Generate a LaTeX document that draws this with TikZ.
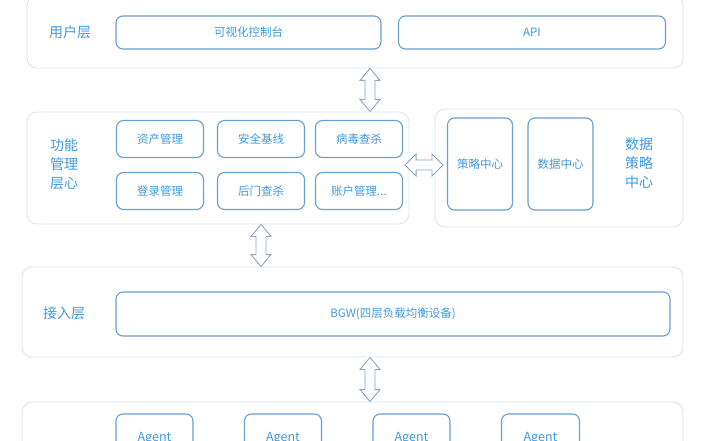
\documentclass[tikz,border=0pt]{standalone}
\usepackage{fontspec}
\setmainfont{Noto Sans CJK SC}
\usetikzlibrary{calc}
\definecolor{boxline}{HTML}{6A9FD0}
\definecolor{txtblue}{HTML}{429AE0}
\definecolor{panelline}{HTML}{DCE5EE}
\definecolor{arrline}{HTML}{8AA6C2}
\tikzset{
  panel/.style={draw=panelline, line width=0.9pt, rounded corners=10pt, fill=white},
  ibox/.style={draw=boxline, line width=1.1pt, rounded corners=7pt, fill=white,
     font=\fontsize{11.5}{14}\selectfont, text=txtblue, inner sep=0pt},
  agbox/.style={ibox, font=\fontsize{12.5}{14}\selectfont, minimum height=48pt},
  lbl/.style={font=\fontsize{14}{19}\selectfont, text=txtblue, align=center, inner sep=0pt},
  blockarr/.style={draw=arrline, fill=white, line width=0.9pt, line join=miter}
}
% vertical block arrow: #1 x (pt), #2 top anchor, #3 bottom anchor
\newcommand\vblockarrow[3]{%
  \draw[blockarr] let \p1=(#2), \p2=(#3) in
    (#1, \y1) -- (#1+10pt, \y1-12pt) -- (#1+5pt, \y1-12pt) -- (#1+5pt, \y2+12pt)
    -- (#1+10pt, \y2+12pt) -- (#1, \y2) -- (#1-10pt, \y2+12pt) -- (#1-5pt, \y2+12pt)
    -- (#1-5pt, \y1-12pt) -- (#1-10pt, \y1-12pt) -- cycle;}
% horizontal block arrow: #1 y (pt, canvas), #2 left anchor, #3 right anchor
\newcommand\hblockarrow[3]{%
  \draw[blockarr] let \p1=(#2), \p2=(#3) in
    (\x1, #1) -- (\x1+11pt, #1+11pt) -- (\x1+11pt, #1+5pt) -- (\x2-11pt, #1+5pt)
    -- (\x2-11pt, #1+11pt) -- (\x2, #1) -- (\x2-11pt, #1-11pt) -- (\x2-11pt, #1-5pt)
    -- (\x1+11pt, #1-5pt) -- (\x1+11pt, #1-11pt) -- cycle;}
\begin{document}
\begin{tikzpicture}[x=1pt,y=-1pt]
\useasboundingbox (0,0) rectangle (706,441);
\clip (0,0) rectangle (706,441);
\fill[white] (0,0) rectangle (706,441);
% panels
\node[panel, minimum width=656pt, minimum height=72pt] (user) at (355,32) {};
\node[panel, minimum width=382pt, minimum height=112pt] (func) at (218,168) {};
\node[panel, minimum width=248pt, minimum height=118pt] (data) at (559,168) {};
\node[panel, minimum width=661pt, minimum height=90pt] (access) at (352.5,312) {};
\node[panel, minimum width=661pt, minimum height=90pt] (agent) at (352.5,447) {};
% user layer
\node[lbl] (ulbl) at (70,32) {用户层};
\node[ibox, minimum width=265pt, minimum height=33pt] (console) at (248.5,32.5) {可视化控制台};
\node[ibox, minimum width=267pt, minimum height=33pt] (api) at (532,32.5) {API};
% function layer
\node[lbl] (flbl) at (64,164) {功能\\管理\\层心};
\node[ibox, minimum width=87pt, minimum height=37pt] (f1) at (160,139) {资产管理};
\node[ibox, minimum width=87pt, minimum height=37pt] (f2) at (261,139) {安全基线};
\node[ibox, minimum width=87pt, minimum height=37pt] (f3) at (359,139) {病毒查杀};
\node[ibox, minimum width=87pt, minimum height=37pt] (f4) at (160,191) {登录管理};
\node[ibox, minimum width=87pt, minimum height=37pt] (f5) at (261,191) {后门查杀};
\node[ibox, minimum width=87pt, minimum height=37pt] (f6) at (359,191) {账户管理...};
% data layer
\node[ibox, minimum width=65pt, minimum height=92pt] (d1) at (480,164) {策略中心};
\node[ibox, minimum width=65pt, minimum height=92pt] (d2) at (560.5,164) {数据中心};
\node[lbl] (dlbl) at (639,163) {数据\\策略\\中心};
% access layer
\node[lbl] (albl) at (64,313) {接入层};
\node[ibox, minimum width=554pt, minimum height=44pt] (bgw) at (393,314) {BGW(四层负载均衡设备)};
% agent layer
\node[agbox, minimum width=77pt] (ag1) at (154.5,438) {Agent};
\node[agbox, minimum width=77pt] (ag2) at (283,438) {Agent};
\node[agbox, minimum width=77pt] (ag3) at (411.5,438) {Agent};
\node[agbox, minimum width=78pt] (ag4) at (540.5,438) {Agent};
% block arrows
\vblockarrow{370pt}{user.south}{func.north}
\vblockarrow{261pt}{func.south}{access.north}
\vblockarrow{370pt}{access.south}{agent.north}
\hblockarrow{-165pt}{$(f6.east)+(2,0)$}{$(d1.west)+(-4,0)$}
\end{tikzpicture}
\end{document}
